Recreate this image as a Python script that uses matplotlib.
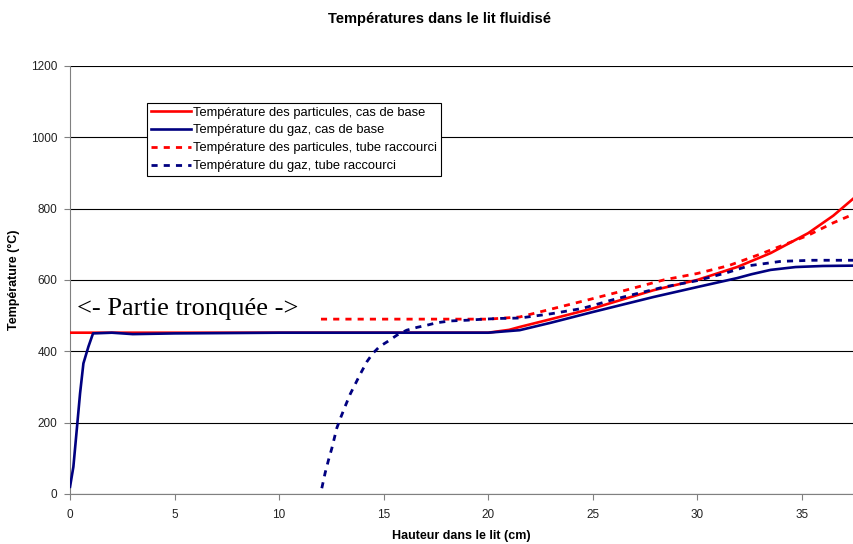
import matplotlib.pyplot as plt

# cas de base
x_part_base = [0, 5, 10, 15, 20, 21, 21.5, 23, 25, 27.9, 30, 31.9, 33.5, 35.3, 36.5, 37.5]
t_part_base = [452, 452, 452, 452, 452, 460, 468, 490, 520, 571, 600, 636, 675, 731, 780, 830]

x_gaz_base = [0, 0.16, 0.35, 0.48, 0.64, 0.88, 1.1, 2, 3, 5, 10, 15, 20, 21.5, 23, 25, 27.9,
              30, 31.9, 32.6, 33.5, 34.7, 36, 37.5]
t_gaz_base = [20, 76, 198, 282, 366, 413, 450, 452, 448, 450, 452, 452, 452, 459, 480, 510, 552,
              580, 605, 616, 628, 636, 639, 640]

# tube raccourci
x_part_court = [12, 15, 20, 21.5, 23, 24.7, 26.5, 28.4, 30, 31.5, 33, 35.3, 36.5, 37.5]
t_part_court = [490, 490, 490, 496, 518, 543, 570, 600, 618, 640, 672, 725, 760, 785]

x_gaz_court = [12.04, 12.2, 12.36, 12.52, 12.76, 12.95, 13.16, 13.4, 13.64, 13.88, 14.2,
               14.48, 14.8, 15.18, 15.63, 16.1, 16.6, 17.07, 17.55, 18.2, 19.0, 19.8, 20.6,
               21.5, 23, 24.5, 26, 27, 28.4, 30, 31.4, 32.5, 34, 35.5, 37.5]
t_gaz_court = [16, 59, 95, 128, 185, 215, 246, 280, 308, 336, 371,
               394, 413, 427, 445, 459, 467, 473, 480, 485, 487, 490, 492,
               493, 505, 520, 545, 560, 580, 598, 620, 640, 652, 655, 655]

labels = ['Température des particules, cas de base',
          'Température du gaz, cas de base',
          'Température des particules, tube raccourci',
          'Température du gaz, tube raccourci']

plt.rcParams['font.family'] = ['Liberation Sans', 'DejaVu Sans']

fig = plt.figure(figsize=(8.54, 5.44), dpi=100)
ax = fig.add_axes([0.082, 0.092, 0.917, 0.787])

red = '#ff0000'
navy = '#000080'
dots = (0, (2.2, 2.2))
ax.plot(x_part_base, t_part_base, color=red, lw=1.9, label=labels[0], zorder=3)
ax.plot(x_gaz_base, t_gaz_base, color=navy, lw=1.9, label=labels[1], zorder=4)
ax.plot(x_part_court, t_part_court, color=red, lw=2.0, ls=dots, label=labels[2], zorder=3)
ax.plot(x_gaz_court, t_gaz_court, color=navy, lw=2.0, ls=dots, label=labels[3], zorder=3)

ax.set_xlim(0, 37.45)
ax.set_ylim(0, 1200)
ax.set_xticks(range(0, 40, 5))
ax.set_yticks(range(0, 1400, 200))
ax.yaxis.grid(True, color='black', lw=0.8)
ax.set_axisbelow(True)
for s in ['top', 'right']:
    ax.spines[s].set_visible(False)
for s in ['left', 'bottom']:
    ax.spines[s].set_color('#808080')
ax.tick_params(axis='both', labelsize=8.5, color='#808080', labelcolor='#222222',
               length=4, width=0.8)
ax.tick_params(axis='x', pad=7)
ax.tick_params(axis='y', pad=5)

ax.set_xlabel('Hauteur dans le lit (cm)', fontsize=9, fontweight='bold', labelpad=6)
ax.set_ylabel('Température (°C)', fontsize=9, fontweight='bold', labelpad=8)
fig.suptitle('Températures dans le lit fluidisé', fontsize=10.5, fontweight='bold',
             x=0.515, y=0.978)

ax.text(0.33, 501, '<- Partie tronquée ->', fontsize=19, va='baseline', ha='left',
        family=['Liberation Serif', 'DejaVu Serif'])

leg = ax.legend(loc='upper left', bbox_to_anchor=(0.098, 0.914), fontsize=9.3,
                frameon=True, fancybox=False, edgecolor='black', framealpha=1,
                borderpad=0.3, labelspacing=0.45, handlelength=3.1, handletextpad=0.2,
                borderaxespad=0)
leg.get_frame().set_linewidth(0.8)

fig.savefig('out.png', dpi=100)
